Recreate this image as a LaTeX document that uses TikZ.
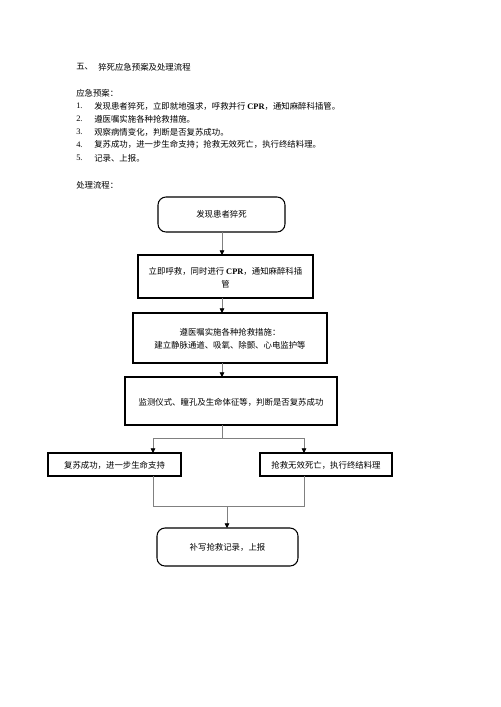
\documentclass[tikz,border=0pt]{standalone}
\usepackage{fontspec}
\setmainfont{Noto Sans CJK SC}
\newfontfamily\latinf{Liberation Serif}
\usetikzlibrary{arrows.meta}
\tikzset{
  txt/.style={anchor=west,inner sep=0pt,font=\fontsize{6.3pt}{8pt}\selectfont},
  boxr/.style={draw=black,line width=0.8pt,rounded corners=6pt},
  boxs/.style={draw=black,line width=0.8pt},
  btxt/.style={inner sep=0pt,align=center,font=\fontsize{6.3pt}{9.75pt}\selectfont},
  conn/.style={draw=black!50,line width=0.5pt},
  arr/.style={conn,-{Triangle[length=3.5pt,width=3.5pt,fill=black,color=black]}},
}
\newcommand{\cpr}{{\latinf\bfseries CPR}}
\begin{document}
\begin{tikzpicture}[x=0.75pt,y=-0.75pt]
\fill[white] (0,0) rectangle (500,707);
\useasboundingbox (0,0) rectangle (500,707);
% header text
\node[txt] (h0) at (76,67) {五、};
\node[txt] (h1) at (98,67) {猝死应急预案及处理流程};
\node[txt] (p0) at (76,93) {应急预案：};
\node[txt] (n1) at (76,106) {\latinf 1.};
\node[txt] (l1) at (94,106) {发现患者猝死，立即就地强求，呼救并行 \cpr，通知麻醉科插管。};
\node[txt] (n2) at (76,119) {\latinf 2.};
\node[txt] (l2) at (94,119) {遵医嘱实施各种抢救措施。};
\node[txt] (n3) at (76,132) {\latinf 3.};
\node[txt] (l3) at (94,132) {观察病情变化，判断是否复苏成功。};
\node[txt] (n4) at (76,145) {\latinf 4.};
\node[txt] (l4) at (94,145) {复苏成功，进一步生命支持；抢救无效死亡，执行终结料理。};
\node[txt] (n5) at (76,158) {\latinf 5.};
\node[txt] (l5) at (94,158) {记录、上报。};
\node[txt] (p1) at (76,185) {处理流程：};
% boxes
\draw[boxr] (158,197) rectangle (285,232);
\node[btxt] (b1) at (221.5,214.5) {发现患者猝死};
\coordinate (b1b) at (222,232);
\draw[boxs] (138,255) rectangle (313,298);
\node[btxt] (b2) at (225.5,277.5) {立即呼救，同时进行 \cpr，通知麻醉科插\\管};
\coordinate (b2t) at (222,255);
\coordinate (b2b) at (222,298);
\draw[boxs] (133,313) rectangle (327,363);
\node[btxt] (b3) at (230,338.5) {遵医嘱实施各种抢救措施：\\建立静脉通道、吸氧、除颤、心电监护等};
\coordinate (b3t) at (222,313);
\coordinate (b3b) at (222,363);
\draw[boxs] (125,377) rectangle (337,425);
\node[btxt] (b4) at (231,402) {监测仪式、瞳孔及生命体征等，判断是否复苏成功};
\coordinate (b4t) at (222,377);
\coordinate (b4b) at (222,425);
\draw[boxs] (48,453) rectangle (181,476);
\node[btxt] (b5) at (114.5,465) {复苏成功，进一步生命支持};
\coordinate (b5t) at (153,453);
\coordinate (b5b) at (153,476);
\draw[boxs] (260,453) rectangle (392,476);
\node[btxt] (b6) at (326,465) {抢救无效死亡，执行终结料理};
\coordinate (b6t) at (304,453);
\coordinate (b6b) at (304,476);
\draw[boxr] (157,528) rectangle (298,566);
\node[btxt] (b7) at (227.5,547) {补写抢救记录，上报};
\coordinate (b7t) at (227,528);
% connectors
\draw[arr] (b1b) -- (b2t);
\draw[arr] (b2b) -- (b3t);
\draw[arr] (b3b) -- (b4t);
\coordinate (s1) at (222,438);
\draw[conn] (b4b) -- (s1);
\draw[arr] (s1) -| (b5t);
\draw[arr] (s1) -| (b6t);
\coordinate (m1) at (153,506);
\coordinate (m2) at (304,506);
\coordinate (m3) at (227,506);
\draw[conn] (b5b) -- (m1) -- (m2) -- (b6b);
\draw[arr] (m3) -- (b7t);
\end{tikzpicture}
\end{document}
